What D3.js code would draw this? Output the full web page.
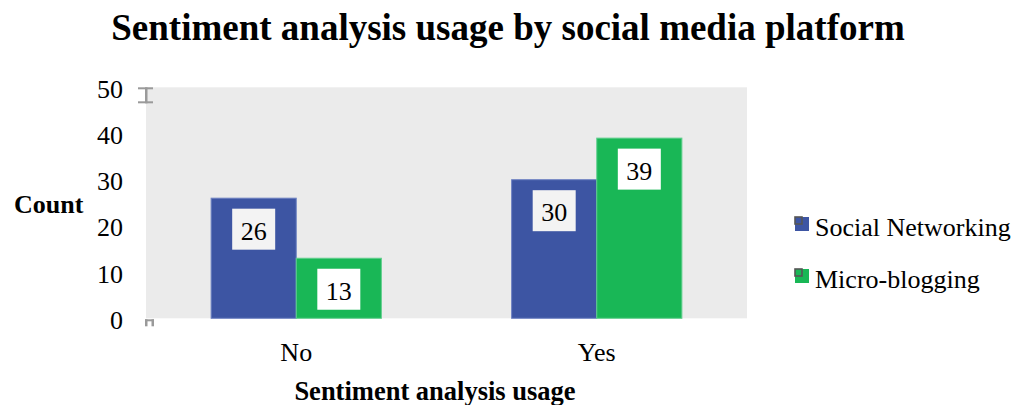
<!DOCTYPE html>
<html>
<head>
<meta charset="utf-8">
<script src="https://cdn.jsdelivr.net/npm/d3@7/dist/d3.min.js"></script>
<style>
  html, body { margin: 0; padding: 0; background: #ffffff; }
  svg { display: block; }
  svg text { font-family: "Liberation Serif", "Times New Roman", Times, serif !important; fill: #000; }
</style>
</head>
<body>
<svg id="chart" width="1015" height="405" font-family="Liberation Serif, Times New Roman, serif"></svg>
<script>
// Chart data
const categories = ["No", "Yes"];
const seriesNames = ["Social Networking", "Micro-blogging"];
const socialNetworking = [26, 30];
const microBlogging = [13, 39];
const yTicks = [0, 10, 20, 30, 40, 50];
const colors = ["#3d55a3", "#19b756"];
const edgeColors = ["#6e82c2", "#62cf8e"];

const seriesValues = [socialNetworking, microBlogging];
const rows = categories.map((c, i) => ({
  category: c,
  values: seriesNames.map((s, j) => ({ series: s, index: j, value: seriesValues[j][i] }))
}));

const serif = "'Liberation Serif', 'Times New Roman', serif";
const svg = d3.select("#chart");
const plot = { left: 146, right: 747, top: 87.3, bottom: 318.3 };

const x0 = d3.scaleBand().domain(categories).range([plot.left, plot.right]).padding(0);
const x1 = d3.scaleBand().domain(seriesNames).range([0, x0.bandwidth()])
  .paddingInner(0).paddingOuter(0.765);
const y = d3.scaleLinear().domain([0, 50]).range([plot.bottom, plot.top]);

// Title
svg.append("text")
  .attr("x", 508).attr("y", 40)
  .attr("text-anchor", "middle")
  .style("font-size", "37px").style("font-weight", "bold")
  .text("Sentiment analysis usage by social media platform");

// Plot background
svg.append("rect")
  .attr("x", plot.left).attr("y", plot.top)
  .attr("width", plot.right - plot.left).attr("height", plot.bottom - plot.top)
  .attr("fill", "#ebebeb");

// Y axis labels
const yAxis = d3.axisLeft(y).tickValues(yTicks).tickSize(0).tickPadding(0);
const yg = svg.append("g").attr("transform", `translate(123,0)`).call(yAxis)
  .attr("font-family", serif);
yg.select(".domain").remove();
yg.selectAll("text")
  .attr("dy", null).attr("y", 10)
  .style("font-size", "26px")
  .attr("fill", "#000");

// Small axis end markers
const markers = svg.append("g").attr("fill", "#9a9a9a");
markers.append("rect").attr("x", 138).attr("y", y(50)).attr("width", 15).attr("height", 2);
markers.append("rect").attr("x", 138).attr("y", y(50) + 14).attr("width", 15).attr("height", 2);
markers.append("rect").attr("x", 145).attr("y", y(50)).attr("width", 2.5).attr("height", 16);
markers.append("rect").attr("x", 145).attr("y", y(0) + 1).attr("width", 9).attr("height", 2);
markers.append("rect").attr("x", 145).attr("y", y(0) + 1).attr("width", 2.5).attr("height", 7);
markers.append("rect").attr("x", 151.5).attr("y", y(0) + 1).attr("width", 2.5).attr("height", 7);

// X axis labels
const xAxis = d3.axisBottom(x0).tickSize(0).tickPadding(0);
const xg = svg.append("g").attr("transform", `translate(0,${plot.bottom})`).call(xAxis)
  .attr("font-family", serif);
xg.select(".domain").remove();
xg.selectAll("text")
  .attr("dy", null).attr("y", 43)
  .style("font-size", "26px")
  .attr("fill", "#000");

// Axis titles
svg.append("text")
  .attr("x", 14).attr("y", 213)
  .style("font-size", "26px").style("font-weight", "bold")
  .text("Count");
svg.append("text")
  .attr("x", 435).attr("y", 400)
  .attr("text-anchor", "middle")
  .style("font-size", "26.5px").style("font-weight", "bold")
  .text("Sentiment analysis usage");

// Bars
const groups = svg.append("g").selectAll("g")
  .data(rows).join("g")
  .attr("transform", d => `translate(${x0(d.category)},0)`);

groups.selectAll("rect")
  .data(d => d.values).join("rect")
  .attr("x", d => x1(d.series))
  .attr("y", d => y(d.value))
  .attr("width", x1.bandwidth())
  .attr("height", d => y(0) - y(d.value))
  .attr("fill", d => colors[d.index])
  .attr("stroke", d => edgeColors[d.index])
  .attr("stroke-width", 1);

// Value labels in white boxes
const labels = groups.selectAll("g.label")
  .data(d => d.values).join("g")
  .attr("class", "label")
  .attr("transform", d => `translate(${x1(d.series) + x1.bandwidth() / 2},${y(d.value) + 10.5})`);
labels.append("rect")
  .attr("x", -21.5).attr("y", 0)
  .attr("width", 43).attr("height", 41)
  .attr("fill", d => d.index === 0 ? "#f3f3f3" : "#ffffff");
labels.append("text")
  .attr("y", 31)
  .attr("text-anchor", "middle")
  .style("font-size", "26px")
  .text(d => d.value);

// Legend
const legend = svg.append("g").selectAll("g")
  .data(seriesNames).join("g")
  .attr("transform", (d, i) => `translate(795,${217 + i * 52})`);
legend.append("rect")
  .attr("width", 14).attr("height", 14)
  .attr("fill", (d, i) => colors[i]);
legend.append("rect")
  .attr("x", 0).attr("y", 0).attr("width", 7).attr("height", 7)
  .attr("fill", "none").attr("stroke", "#555").attr("stroke-width", 1.6);
legend.append("text")
  .attr("x", 20).attr("y", 19)
  .style("font-size", "26px")
  .text(d => d);
</script>
</body>
</html>
